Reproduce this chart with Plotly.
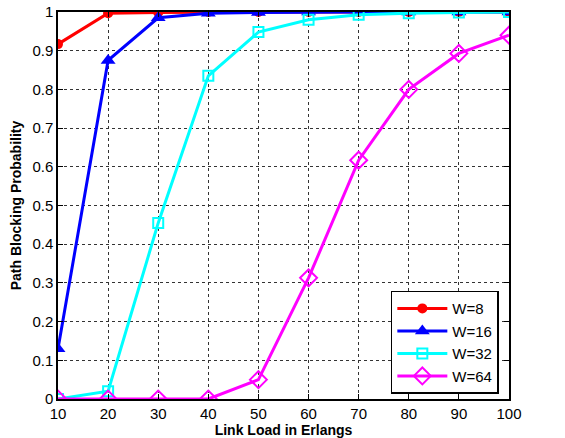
import plotly.graph_objects as go

load = [10, 20, 30, 40, 50, 60, 70, 80, 90, 100]
w8 = [0.917, 0.997, 0.999, 1.0, 1.0, 1.0, 1.0, 1.0, 1.0, 1.0]
w16 = [0.13, 0.875, 0.985, 0.997, 0.999, 1.0, 1.0, 1.0, 1.0, 1.0]
w32 = [0.0, 0.02, 0.455, 0.835, 0.948, 0.98, 0.993, 0.997, 0.999, 1.0]
w64 = [0.0, 0.0, 0.0, 0.0, 0.05, 0.313, 0.617, 0.80, 0.893, 0.94]
x_ticks = [10, 20, 30, 40, 50, 60, 70, 80, 90, 100]
y_ticks = [0, 0.1, 0.2, 0.3, 0.4, 0.5, 0.6, 0.7, 0.8, 0.9, 1]
y_labels = ["0", "0.1", "0.2", "0.3", "0.4", "0.5", "0.6", "0.7", "0.8", "0.9", "1"]

fig = go.Figure()
fig.add_trace(go.Scatter(x=load, y=w8, name="W=8", mode="lines+markers",
                         line=dict(color="#ff0000", width=3),
                         marker=dict(symbol="circle", size=10, color="#ff0000")))
fig.add_trace(go.Scatter(x=load, y=w16, name="W=16", mode="lines+markers",
                         line=dict(color="#0000ff", width=3),
                         marker=dict(symbol="triangle-up", size=13, color="#0000ff")))
fig.add_trace(go.Scatter(x=load, y=w32, name="W=32", mode="lines+markers",
                         line=dict(color="#00ffff", width=3),
                         marker=dict(symbol="square-open", size=10, color="#00ffff",
                                     line=dict(width=2))))
fig.add_trace(go.Scatter(x=load, y=w64, name="W=64", mode="lines+markers",
                         line=dict(color="#ff00ff", width=3),
                         marker=dict(symbol="diamond-open", size=13, color="#ff00ff",
                                     line=dict(width=2))))

axis_common = dict(showline=True, linecolor="black", linewidth=1.5, mirror="ticks",
                   ticks="inside", ticklen=5, tickcolor="black",
                   showgrid=True, gridcolor="#333333", griddash="dot", gridwidth=1,
                   zeroline=False, automargin=False, ticklabeloverflow="allow",
                   tickfont=dict(family="Liberation Sans, Arial, sans-serif", size=15, color="black"))

fig.update_xaxes(range=[10, 100], tickvals=x_ticks,
                 title=dict(text="<b>Link Load in Erlangs</b>", standoff=4,
                            font=dict(family="Liberation Sans, Arial, sans-serif", size=14, color="black")),
                 **axis_common)
fig.update_yaxes(range=[0, 1], tickvals=y_ticks, ticktext=y_labels,
                 title=dict(text="<b>Path Blocking Probability</b>", standoff=7,
                            font=dict(family="Liberation Sans, Arial, sans-serif", size=14, color="black")),
                 **axis_common)

fig.update_layout(
    width=565, height=438,
    margin=dict(l=58, r=56, t=12, b=39),
    plot_bgcolor="white", paper_bgcolor="white",
    showlegend=True,
    legend=dict(x=0.738, y=0.28, xanchor="left", yanchor="top",
                bgcolor="white", bordercolor="black", borderwidth=1.5,
                font=dict(family="Liberation Sans, Arial, sans-serif", size=15, color="black"),
                tracegroupgap=0, itemwidth=50),
)

fig.write_html("out.html", config={"displayModeBar": False},
               post_script="document.body.style.margin='0';document.body.style.overflow='hidden';")
